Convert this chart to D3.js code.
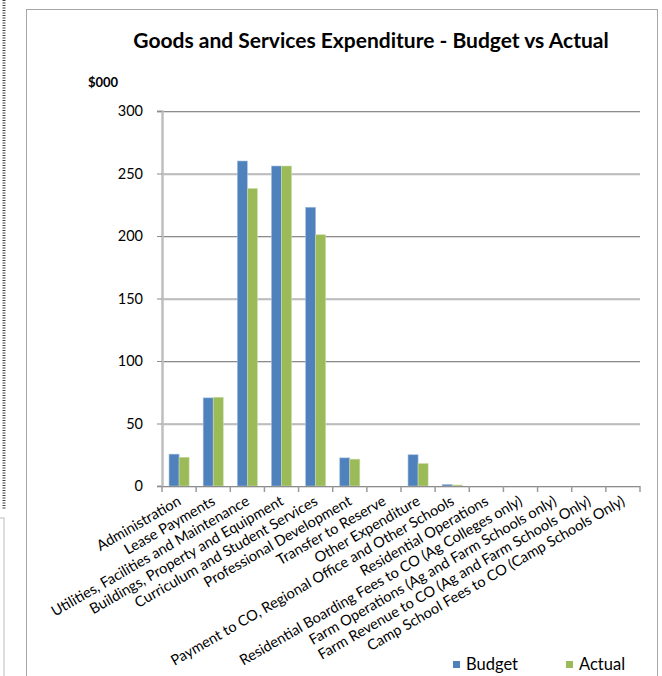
<!DOCTYPE html>
<html>
<head>
<meta charset="utf-8">
<script src="https://cdn.jsdelivr.net/npm/d3@7"></script>
<style>
  body { margin: 0; background: #fff; }
  svg text { font-family: Lato, "Open Sans", sans-serif; fill: #000; }
</style>
</head>
<body>
<div id="chart"></div>
<script>
// categories and values ($000)
const categories = [
  "Administration",
  "Lease Payments",
  "Utilities, Facilities and Maintenance",
  "Buildings, Property and Equipment",
  "Curriculum and Student Services",
  "Professional Development",
  "Transfer to Reserve",
  "Other Expenditure",
  "Payment to CO, Regional Office and Other Schools",
  "Residential Operations",
  "Residential Boarding Fees to CO (Ag Colleges only)",
  "Farm Operations (Ag and Farm Schools only)",
  "Farm Revenue to CO (Ag and Farm Schools Only)",
  "Camp School Fees to CO (Camp Schools Only)"
];
const budget = [25.5, 70.5, 260, 256, 223, 22.5, 0, 25, 1.2, 0, 0, 0, 0, 0];
const actual = [23, 71, 238, 256, 201, 21.5, 0, 18, 0.8, 0, 0, 0, 0, 0];
const seriesNames = ["Budget", "Actual"];
const colors = ["#4f81bd", "#9bbb59"];
const yTicks = [0, 50, 100, 150, 200, 250, 300];

const W = 662, H = 676;
const margin = {top: 111, right: 22, bottom: 190, left: 162};

const svg = d3.select("#chart").append("svg")
  .attr("width", W).attr("height", H);

// left screenshot ruler remnant
const ruler = svg.append("g");
ruler.append("line").attr("x1", 4).attr("x2", 4).attr("y1", 0).attr("y2", 510)
  .attr("stroke", "#444").attr("stroke-width", 3).attr("stroke-dasharray", "1,1.5");
ruler.append("rect").attr("x", -2).attr("y", 518).attr("width", 6).attr("height", 170)
  .attr("fill", "#fff").attr("stroke", "#bbb");

// chart frame
svg.append("rect")
  .attr("x", 26.5).attr("y", 9.5).attr("width", 631).attr("height", 680)
  .attr("fill", "#fff").attr("stroke", "#a6a6a6").attr("stroke-width", 1);

const x = d3.scaleBand()
  .domain(categories)
  .range([margin.left, W - margin.right]);

const xs = d3.scaleBand()
  .domain(seriesNames)
  .range([0, x.bandwidth()])
  .paddingOuter(0.7).paddingInner(0);

const y = d3.scaleLinear()
  .domain([0, 300])
  .range([H - margin.bottom, margin.top]);

// gridlines
const grid = svg.append("g");
grid.selectAll("line.shade").data(yTicks.slice(1)).enter().append("line")
  .attr("x1", margin.left).attr("x2", W - margin.right)
  .attr("y1", d => y(d) + 1.5).attr("y2", d => y(d) + 1.5)
  .attr("stroke", "#dcdcdc").attr("stroke-width", 1);
grid.selectAll("line.main").data(yTicks.slice(1)).enter().append("line")
  .attr("x1", margin.left).attr("x2", W - margin.right)
  .attr("y1", d => y(d) + 0.5).attr("y2", d => y(d) + 0.5)
  .attr("stroke", "#8c8c8c").attr("stroke-width", 1);

// bars
const groups = svg.append("g").selectAll("g")
  .data(categories.map((c, i) => ({c: c, vals: [budget[i], actual[i]]})))
  .enter().append("g")
  .attr("transform", d => "translate(" + x(d.c) + ",0)");

groups.selectAll("rect")
  .data(d => d.vals.map((v, j) => ({name: seriesNames[j], v: v, j: j})))
  .enter().append("rect")
  .attr("x", d => xs(d.name))
  .attr("y", d => y(d.v))
  .attr("width", xs.bandwidth())
  .attr("height", d => y(0) - y(d.v))
  .attr("fill", d => colors[d.j])
  .attr("stroke", d => d.j === 0 ? "#a7c0de" : "#cddcac")
  .attr("stroke-width", 0.6);

// y axis
const yAxis = svg.append("g")
  .attr("transform", "translate(" + margin.left + ",0)")
  .call(d3.axisLeft(y).tickValues(yTicks).tickSize(5).tickPadding(14));
yAxis.select(".domain").attr("stroke", "#bfbfbf").attr("stroke-width", 2.5);
yAxis.selectAll(".tick line").attr("stroke", "#8c8c8c");
yAxis.selectAll(".tick text").style("font-size", "14.5px").style("font-family", "Lato, sans-serif");

// x axis line and ticks at band boundaries
const xAxis = svg.append("g");
xAxis.append("line")
  .attr("x1", margin.left - 5).attr("x2", W - margin.right)
  .attr("y1", y(0) + 0.5).attr("y2", y(0) + 0.5)
  .attr("stroke", "#8c8c8c");
xAxis.append("line")
  .attr("x1", margin.left - 5).attr("x2", W - margin.right)
  .attr("y1", y(0) + 1.5).attr("y2", y(0) + 1.5)
  .attr("stroke", "#dcdcdc");
xAxis.selectAll("line.tk")
  .data(categories.concat(["end"]))
  .enter().append("line")
  .attr("x1", (d, i) => margin.left + i * x.bandwidth())
  .attr("x2", (d, i) => margin.left + i * x.bandwidth())
  .attr("y1", y(0)).attr("y2", y(0) + 6)
  .attr("stroke", "#9a9a9a").attr("stroke-width", 1.5);

// rotated category labels
xAxis.selectAll("text")
  .data(categories)
  .enter().append("text")
  .attr("text-anchor", "end")
  .attr("transform", d => "translate(" + (x(d) + x.bandwidth() / 2 + 3) + "," + (y(0) + 18) + ")rotate(-30)")
  .style("font-size", "14.6px")
  .text(d => d);

// title
svg.append("text")
  .attr("x", 371).attr("y", 48)
  .attr("text-anchor", "middle")
  .style("font-size", "21px").style("font-weight", "bold")
  .text("Goods and Services Expenditure - Budget vs Actual");

// unit label
svg.append("text")
  .attr("x", 88).attr("y", 87)
  .style("font-size", "13px").style("font-weight", "bold")
  .text("$000");

// legend
const legend = svg.append("g").selectAll("g")
  .data(seriesNames)
  .enter().append("g")
  .attr("transform", (d, i) => "translate(" + (453 + i * 113) + ",661)");
legend.append("rect")
  .attr("width", 7).attr("height", 7)
  .attr("fill", (d, i) => colors[i]);
legend.append("text")
  .attr("x", 13).attr("y", 8.5)
  .style("font-size", "16.5px")
  .text(d => d);
</script>
</body>
</html>
